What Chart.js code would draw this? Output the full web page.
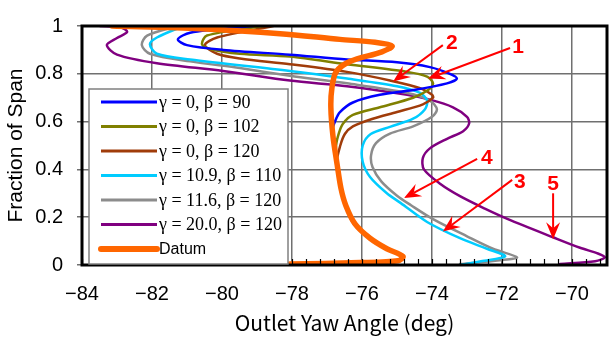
<!DOCTYPE html>
<html><head><meta charset="utf-8">
<script src="https://cdn.jsdelivr.net/npm/chart.js@4/dist/chart.umd.min.js"></script>
<style>html,body{margin:0;padding:0;background:#fff}#wrap{width:610px;height:338px;position:relative}</style>
</head><body><div id="wrap"><canvas id="c"></canvas></div>
<script>
// ---- axis tick values ----
const xTicks = [-84, -82, -80, -78, -76, -74, -72, -70];
const yTicks = [0, 0.2, 0.4, 0.6, 0.8, 1];

// ---- series labels & colours ----
const seriesLabels = ['γ = 0, β = 90', 'γ = 0, β = 102', 'γ = 0, β = 120',
  'γ = 10.9, β = 110', 'γ = 11.6, β = 120', 'γ = 20.0, β = 120', 'Datum'];
const seriesColors = ['#0000ff', '#808000', '#a03c0a', '#00ccff', '#8c8c8c', '#800080', '#ff6600'];

// ---- series values: [yaw angle, fraction of span] ----
const blue = [[-79.11,1.0],[-80.91,0.972],[-81.26,0.944],[-81.0,0.92],[-79.97,0.9],[-78.06,0.88],
  [-76.43,0.86],[-75.0,0.848],[-74.06,0.828],[-73.49,0.8],[-73.29,0.78],[-73.57,0.76],[-74.54,0.732],
  [-75.49,0.712],[-76.26,0.68],[-76.63,0.64],[-76.75,0.608],[-76.85,0.56],[-76.76,0.45],[-76.65,0.35],
  [-76.5,0.26],[-76.25,0.175],[-75.8,0.113],[-75.32,0.068],[-74.86,0.036],[-75.0,0.018],[-76.06,0.01],[-78.06,0.004]];
const olive = [[-78.83,1.0],[-80.43,0.96],[-80.57,0.924],[-80.34,0.904],[-79.49,0.884],[-78.06,0.872],
  [-76.43,0.84],[-74.71,0.808],[-74.14,0.788],[-73.97,0.76],[-74.11,0.732],[-74.54,0.70],[-75.49,0.66],
  [-76.26,0.628],[-76.54,0.592],[-76.66,0.552],[-76.74,0.5],[-76.73,0.42],[-76.62,0.33],[-76.48,0.25],
  [-76.22,0.172],[-75.79,0.112],[-75.31,0.068],[-74.85,0.036],[-74.99,0.018],[-76.06,0.01],[-78.06,0.004]];
const brown = [[-78.54,1.0],[-80.14,0.952],[-80.49,0.92],[-80.14,0.884],[-79.49,0.864],[-78.06,0.84],
  [-76.43,0.808],[-75.2,0.772],[-74.34,0.74],[-74.0,0.712],[-73.97,0.70],[-74.26,0.672],[-75.0,0.64],
  [-75.69,0.612],[-76.26,0.58],[-76.49,0.548],[-76.62,0.5],[-76.72,0.43],[-76.62,0.33],[-76.48,0.25],
  [-76.22,0.172],[-75.79,0.112],[-75.31,0.068],[-74.85,0.036],[-74.99,0.018],[-76.06,0.01],[-78.06,0.004]];
const cyan = [[-81.11,1.0],[-81.86,0.952],[-82.06,0.924],[-81.86,0.884],[-80.91,0.86],[-78.06,0.812],
  [-76.43,0.78],[-75.0,0.748],[-74.34,0.72],[-74.14,0.688],[-74.2,0.652],[-74.54,0.612],[-75.2,0.578],
  [-75.75,0.548],[-75.98,0.5],[-75.98,0.432],[-75.77,0.368],[-75.29,0.30],[-74.9,0.26],[-74.14,0.18],
  [-73.2,0.112],[-72.43,0.068],[-71.91,0.036],[-72.6,0.016],[-73.2,0.0]];
const gray = [[-81.29,1.0],[-82.14,0.96],[-82.29,0.92],[-82.06,0.884],[-80.91,0.852],[-79.49,0.824],
  [-78.06,0.792],[-76.43,0.76],[-74.71,0.72],[-74.06,0.688],[-73.86,0.652],[-74.0,0.62],[-74.54,0.58],
  [-75.2,0.55],[-75.6,0.51],[-75.74,0.46],[-75.7,0.41],[-75.45,0.35],[-75.0,0.29],[-74.6,0.25],
  [-73.97,0.192],[-73.0,0.12],[-72.26,0.068],[-71.57,0.032],[-72.06,0.02],[-73.2,0.004]];
const purple = [[-83.49,1.0],[-82.9,0.995],[-82.71,0.975],[-83.0,0.95],[-83.29,0.92],[-83.0,0.88],
  [-81.86,0.844],[-79.97,0.812],[-78.06,0.772],[-76.43,0.748],[-74.71,0.712],[-74.06,0.692],[-73.4,0.66],
  [-73.0,0.62],[-72.94,0.592],[-73.11,0.56],[-73.57,0.528],[-74.06,0.488],[-74.26,0.448],[-74.23,0.40],
  [-73.77,0.34],[-73.2,0.288],[-72.49,0.236],[-71.83,0.192],[-70.54,0.116],[-69.77,0.072],[-69.26,0.048],
  [-69.06,0.032],[-69.34,0.016],[-70.34,0.004]];
const datum = [[-83.14,1.0],[-80.63,0.988],[-78.34,0.968],[-76.63,0.944],[-75.63,0.932],[-75.14,0.916],
  [-75.43,0.892],[-76.34,0.852],[-76.74,0.808],[-76.86,0.74],[-76.89,0.66],[-76.83,0.54],[-76.71,0.42],
  [-76.6,0.32],[-76.46,0.248],[-76.2,0.172],[-75.77,0.112],[-75.29,0.068],[-74.83,0.036],[-74.97,0.018],
  [-76.06,0.01],[-78.06,0.004]];

// ---- annotations: label, label position, arrow start, arrow tip (data units) ----
const annLabels = ['1', '2', '3', '4', '5'];
const annLabelPos = [[-71.54,0.916],[-73.43,0.932],[-71.49,0.352],[-72.43,0.452],[-70.54,0.344]];
const annStart = [[-71.77,0.908],[-73.69,0.92],[-71.71,0.356],[-72.71,0.444],[-70.54,0.30]];
const annTip = [[-74.11,0.78],[-75.11,0.768],[-73.69,0.14],[-74.8,0.28],[-70.54,0.108]];

const seriesData = [blue, olive, brown, cyan, gray, purple, datum];

const datasets = seriesData.map((arr, i) => ({
  label: seriesLabels[i],
  data: arr.map(p => ({x: p[0], y: p[1]})),
  borderColor: seriesColors[i],
  backgroundColor: seriesColors[i],
  borderWidth: i === 6 ? 5.5 : 2.5,
  showLine: true,
  pointRadius: 0,
  tension: 0.3,
  fill: false,
  order: i === 6 ? -1 : i,
  borderCapStyle: 'round',
  borderJoinStyle: 'round'
}));

const framePlugin = {
  id: 'frame',
  afterDatasetsDraw(chart) {
    const {ctx, chartArea: a, scales} = chart;
    ctx.save();
    // minor ticks on bottom axis (inward)
    ctx.strokeStyle = '#000';
    ctx.lineWidth = 1.2;
    const xs = scales.x;
    for (let k = 0; k <= 37; k++) {
      const v = -84 + 0.4 * k;
      const px = Math.round(xs.getPixelForValue(v)) + 0.5;
      ctx.beginPath();
      ctx.moveTo(px, a.bottom);
      ctx.lineTo(px, a.bottom - 6);
      ctx.stroke();
    }
    // frame
    ctx.lineWidth = 3;
    ctx.strokeRect(a.left, a.top, a.right - a.left, a.bottom - a.top);

    // legend box
    const lx = a.left + 7, ly = a.top + 63, lw = 199, lh = 175;
    ctx.fillStyle = '#fff';
    ctx.fillRect(lx, ly, lw, lh);
    ctx.strokeStyle = '#808080';
    ctx.lineWidth = 1.5;
    ctx.strokeRect(lx, ly, lw, lh);
    const ds = chart.data.datasets;
    ds.forEach((d, i) => {
      const ry = ly + 13 + i * 24.5;
      ctx.strokeStyle = d.borderColor;
      ctx.lineWidth = i === 6 ? 6 : 3;
      ctx.lineCap = i === 6 ? 'round' : 'butt';
      ctx.beginPath();
      ctx.moveTo(lx + 12, ry);
      ctx.lineTo(lx + 68, ry);
      ctx.stroke();
      ctx.fillStyle = '#000';
      ctx.textBaseline = 'middle';
      ctx.textAlign = 'left';
      ctx.font = i === 6 ? '16px "Liberation Sans", Arial, sans-serif' : '18px "Liberation Serif", "Times New Roman", serif';
      ctx.fillText(d.label, lx + 70, ry + 1);
    });
    ctx.lineCap = 'butt';

    // annotations
    const ys = scales.y;
    ctx.strokeStyle = '#ff0000';
    ctx.fillStyle = '#ff0000';
    annLabels.forEach((lab, i) => {
      const x0 = xs.getPixelForValue(annStart[i][0]), y0 = ys.getPixelForValue(annStart[i][1]);
      const x1 = xs.getPixelForValue(annTip[i][0]), y1 = ys.getPixelForValue(annTip[i][1]);
      const ang = Math.atan2(y1 - y0, x1 - x0);
      const hl = 17, hw = 7, notch = 11;
      const cos = Math.cos(ang), sin = Math.sin(ang);
      ctx.lineWidth = 2;
      ctx.beginPath();
      ctx.moveTo(x0, y0);
      ctx.lineTo(x1 - cos * notch, y1 - sin * notch);
      ctx.stroke();
      ctx.beginPath();
      ctx.moveTo(x1, y1);
      ctx.lineTo(x1 - cos * hl - sin * hw, y1 - sin * hl + cos * hw);
      ctx.lineTo(x1 - cos * notch, y1 - sin * notch);
      ctx.lineTo(x1 - cos * hl + sin * hw, y1 - sin * hl - cos * hw);
      ctx.closePath();
      ctx.fill();
      ctx.font = 'bold 21px "Liberation Sans", Arial, sans-serif';
      ctx.textAlign = 'center';
      ctx.textBaseline = 'middle';
      ctx.fillText(lab, xs.getPixelForValue(annLabelPos[i][0]), ys.getPixelForValue(annLabelPos[i][1]) + 1);
    });
    ctx.restore();
  }
};

const fmt = v => (v < 0 ? '\u2212' + Math.abs(v) : String(v));

new Chart(document.getElementById('c'), {
  type: 'scatter',
  data: {datasets},
  options: {
    responsive: true,
    maintainAspectRatio: false,
    animation: false,
    layout: {padding: {top: 15, right: 3, left: 0, bottom: 0}},
    plugins: {legend: {display: false}, tooltip: {enabled: false}},
    scales: {
      x: {
        type: 'linear', min: -84, max: -69,
        afterBuildTicks: s => { s.ticks = xTicks.map(v => ({value: v})); },
        afterFit: s => { s.height = 73; },
        grid: {color: '#707070', lineWidth: 1.5, drawTicks: false},
        border: {display: false},
        ticks: {callback: fmt, color: '#000', padding: 17, maxRotation: 0,
          font: {family: '"Liberation Sans", Arial, sans-serif', size: 20}},
        title: {display: true, text: 'Outlet Yaw Angle (deg)', color: '#000',
          padding: {top: 2, bottom: 2},
          font: {family: '"Noto Sans CJK JP", sans-serif', size: 21}}
      },
      y: {
        type: 'linear', min: 0, max: 1,
        afterBuildTicks: s => { s.ticks = yTicks.map(v => ({value: v})); },
        afterFit: s => { s.width = 82; },
        grid: {color: '#707070', lineWidth: 1.5, tickLength: 5},
        border: {display: false},
        ticks: {callback: v => String(v), color: '#000', padding: 14,
          font: {family: '"Liberation Sans", Arial, sans-serif', size: 20}},
        title: {display: true, text: 'Fraction of Span', color: '#000',
          padding: {top: 4, bottom: 0},
          font: {family: '"Liberation Sans", Arial, sans-serif', size: 21}}
      }
    }
  },
  plugins: [framePlugin]
});
</script></body></html>
